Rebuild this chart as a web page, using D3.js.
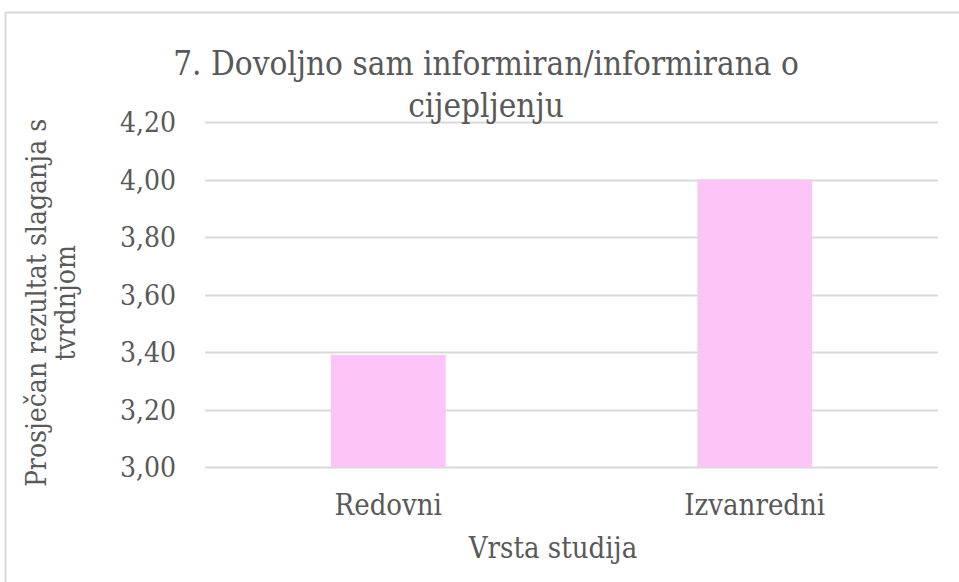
<!DOCTYPE html>
<html>
<head>
<meta charset="utf-8">
<script src="https://cdn.jsdelivr.net/npm/d3@7"></script>
<style>
  body { margin: 0; background: #fff; }
  svg text { font-family: "DejaVu Serif", serif; fill: #595959; }
</style>
</head>
<body>
<div id="chart"></div>
<script>
const categories = ["Redovni", "Izvanredni"];
const values = [3.39, 4.00];
const yTicks = [3.0, 3.2, 3.4, 3.6, 3.8, 4.0, 4.2];
const titleLines = ["7. Dovoljno sam informiran/informirana o", "cijepljenju"];
const yTitleLines = ["Prosječan rezultat slaganja s", "tvrdnjom"];
const xTitle = "Vrsta studija";

const width = 959, height = 582;
const margin = {top: 122, right: 21, bottom: 115, left: 205};
// the original uses a narrow Times-like face; squeeze DejaVu Serif to match
const squeeze = 0.9;

const svg = d3.select("#chart")
  .append("svg")
  .attr("width", width)
  .attr("height", height);

// chart border
svg.append("rect")
  .attr("x", 5.5).attr("y", 12.5)
  .attr("width", 1000).attr("height", 700)
  .attr("fill", "none")
  .attr("stroke", "#d9d9d9")
  .attr("stroke-width", 2);

const x = d3.scaleBand()
  .domain(categories)
  .range([margin.left, width - margin.right])
  .padding(0);

const y = d3.scaleLinear()
  .domain([3.0, 4.2])
  .range([height - margin.bottom, margin.top]);

const fmt = d => d3.format(".2f")(d).replace(".", ",");

// gridlines
svg.append("g")
  .selectAll("line")
  .data(yTicks)
  .enter().append("line")
  .attr("x1", margin.left)
  .attr("x2", width - margin.right)
  .attr("y1", d => Math.round(y(d)) + 0.5)
  .attr("y2", d => Math.round(y(d)) + 0.5)
  .attr("stroke", "#d9d9d9")
  .attr("stroke-width", 2);

// bars (Excel gap width ~219%)
const barW = x.bandwidth() / 3.19;
svg.append("g")
  .selectAll("rect")
  .data(values)
  .enter().append("rect")
  .attr("x", (d, i) => x(categories[i]) + (x.bandwidth() - barW) / 2)
  .attr("y", d => y(d))
  .attr("width", barW)
  .attr("height", d => y(3.0) - y(d))
  .attr("fill", "#fcc4f7");

// y tick labels
svg.append("g")
  .selectAll("text")
  .data(yTicks)
  .enter().append("text")
  .attr("x", 176)
  .attr("y", d => y(d))
  .attr("dy", "0.36em")
  .attr("text-anchor", "end")
  .attr("font-size", 28)
  .text(fmt);

// x category labels
svg.append("g")
  .selectAll("text")
  .data(categories)
  .enter().append("text")
  .attr("x", d => x(d) + x.bandwidth() / 2)
  .attr("y", 515)
  .attr("text-anchor", "middle")
  .attr("font-size", 29)
  .text(d => d);

// x axis title
svg.append("text")
  .attr("x", 553)
  .attr("y", 558)
  .attr("text-anchor", "middle")
  .attr("font-size", 29)
  .text(xTitle);

// y axis title
svg.append("g")
  .attr("transform", "translate(0,303) rotate(-90)")
  .selectAll("text")
  .data(yTitleLines)
  .enter().append("text")
  .attr("x", 0)
  .attr("y", (d, i) => 46 + i * 29)
  .attr("text-anchor", "middle")
  .attr("font-size", 28)
  .text(d => d);

// chart title
svg.append("g")
  .selectAll("text")
  .data(titleLines)
  .enter().append("text")
  .attr("x", 486)
  .attr("y", (d, i) => 75 + i * 42)
  .attr("text-anchor", "middle")
  .attr("font-size", 33)
  .text(d => d);

svg.selectAll("text").each(function() {
  const len = this.getComputedTextLength();
  d3.select(this)
    .attr("textLength", len * squeeze)
    .attr("lengthAdjust", "spacingAndGlyphs");
});
</script>
</body>
</html>
